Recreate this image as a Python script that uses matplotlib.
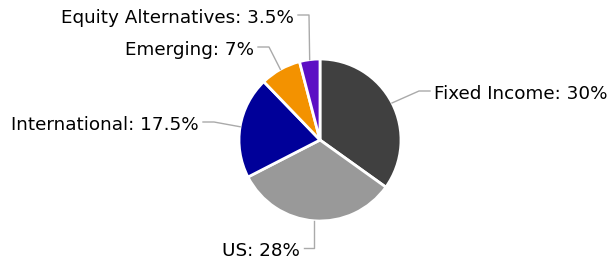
import numpy as np
import matplotlib.pyplot as plt

labels = ['Fixed Income', 'US', 'International', 'Emerging', 'Equity Alternatives']
values = [30, 28, 17.5, 7, 3.5]
colors = ['#404040', '#999999', '#000099', '#f39200', '#5c0fc4']
# where each connector ends (pixel coords), and which side the label is on
label_ends = [(430, 91), (304, 248), (203, 122), (258, 47), (298, 15)]
label_side = ['right', 'left', 'left', 'left', 'left']

cx, cy, r = 320, 140, 81

fig = plt.figure(figsize=(6.08, 2.59), dpi=100)
ax = fig.add_axes([0, 0, 1, 1])

# y axis points down, so counterclock=True draws clockwise on screen
wedges, _ = ax.pie(values, colors=colors, startangle=-90, counterclock=True,
                   center=(cx, cy), radius=r, frame=True,
                   wedgeprops=dict(edgecolor='white', linewidth=2))
ax.set_xlim(0, 608)
ax.set_ylim(259, 0)
ax.set_aspect('equal')
ax.axis('off')

for w, lab, val, end, side in zip(wedges, labels, values, label_ends, label_side):
    mid = np.deg2rad((w.theta1 + w.theta2) / 2)
    ex, ey = cx + r * np.cos(mid), cy + r * np.sin(mid)
    sgn = 1 if side == 'right' else -1
    elbow = (end[0] - sgn * 11, end[1])
    if lab == 'US':
        elbow = (ex, end[1])
    ax.plot([ex, elbow[0], end[0]], [ey, elbow[1], end[1]], color='#aaaaaa', lw=1)
    txt = f'{lab}: {val:g}%'
    ax.text(end[0] + sgn * 4, end[1] + 3, txt, fontsize=13.2,
            ha='left' if side == 'right' else 'right', va='center', color='black')

fig.savefig('out.png', dpi=100)
